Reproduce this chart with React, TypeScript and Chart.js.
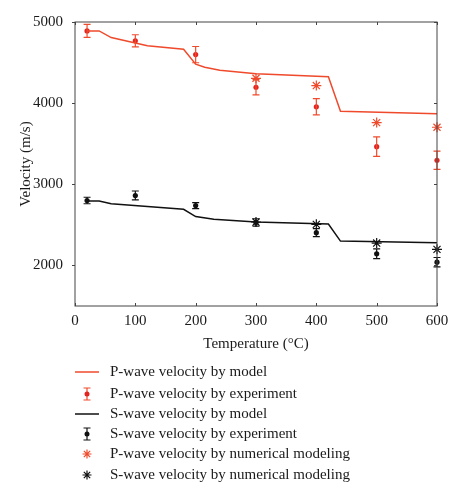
import React, { useEffect, useRef } from 'react';
import { Chart, registerables } from 'chart.js';

Chart.register(...registerables);

const xTicks = [0, 100, 200, 300, 400, 500, 600];
const yTicks = [2000, 3000, 4000, 5000];

const pModelT = [20, 40, 60, 120, 180, 200, 215, 240, 300, 420, 440, 600];
const pModelV = [4890, 4890, 4808, 4708, 4665, 4480, 4442, 4405, 4362, 4325, 3900, 3870];

const sModelT = [20, 40, 60, 180, 200, 230, 300, 420, 440, 600];
const sModelV = [2795, 2795, 2760, 2692, 2602, 2568, 2535, 2510, 2300, 2278];

const expT = [20, 100, 200, 300, 400, 500, 600];
const pExpV = [4890, 4768, 4598, 4196, 3955, 3464, 3296];
const pExpErr = [80, 75, 100, 95, 100, 120, 112];
const sExpV = [2800, 2862, 2738, 2530, 2404, 2144, 2040];
const sExpErr = [40, 55, 37, 45, 50, 60, 58];

const numT = [300, 400, 500, 600];
const pNumV = [4306, 4217, 3760, 3703];
const sNumV = [2535, 2506, 2276, 2198];

const legendLabels = [
  'P-wave velocity by model',
  'P-wave velocity by experiment',
  'S-wave velocity by model',
  'S-wave velocity by experiment',
  'P-wave velocity by numerical modeling',
  'S-wave velocity by numerical modeling',
];

const RED_LINE = '#ef4a2c';
const RED_PT = '#e3231f';
const BLACK = '#111111';
const FONT = "'Liberation Serif', 'Times New Roman', serif";

const pairs = (xs: number[], ys: number[]) => xs.map((x, i) => ({ x, y: ys[i] }));

const errorBarPlugin = {
  id: 'errorBars',
  afterDatasetsDraw(chart: any) {
    const { ctx } = chart;
    const x = chart.scales.x;
    const y = chart.scales.y;
    chart.data.datasets.forEach((ds: any) => {
      if (!ds.errors) return;
      ctx.save();
      ctx.strokeStyle = ds.errorColor;
      ctx.lineWidth = 1.2;
      ds.data.forEach((p: any, j: number) => {
        const px = x.getPixelForValue(p.x);
        const top = y.getPixelForValue(p.y + ds.errors[j]);
        const bot = y.getPixelForValue(p.y - ds.errors[j]);
        ctx.beginPath();
        ctx.moveTo(px, top);
        ctx.lineTo(px, bot);
        ctx.moveTo(px - 3.5, top);
        ctx.lineTo(px + 3.5, top);
        ctx.moveTo(px - 3.5, bot);
        ctx.lineTo(px + 3.5, bot);
        ctx.stroke();
      });
      ctx.restore();
    });
  },
};

const framePlugin = {
  id: 'frame',
  afterDraw(chart: any) {
    const { ctx, chartArea: a } = chart;
    const x = chart.scales.x;
    const y = chart.scales.y;
    ctx.save();
    ctx.strokeStyle = '#444';
    ctx.lineWidth = 1;
    ctx.strokeRect(a.left, a.top, a.right - a.left, a.bottom - a.top);
    ctx.beginPath();
    xTicks.forEach((t) => {
      const px = Math.round(x.getPixelForValue(t)) + 0.5;
      ctx.moveTo(px, a.bottom);
      ctx.lineTo(px, a.bottom - 3);
      ctx.moveTo(px, a.top);
      ctx.lineTo(px, a.top + 3);
    });
    yTicks.forEach((t) => {
      const py = Math.round(y.getPixelForValue(t)) + 0.5;
      ctx.moveTo(a.left, py);
      ctx.lineTo(a.left - 3, py);
      ctx.moveTo(a.right, py);
      ctx.lineTo(a.right - 3, py);
    });
    ctx.stroke();
    ctx.restore();
  },
};

const legendPlugin = {
  id: 'customLegend',
  afterDraw(chart: any) {
    const { ctx } = chart;
    const ys = [372, 394, 414, 434, 454, 475];
    const sx = 87;
    ctx.save();
    ctx.font = `15px ${FONT}`;
    ctx.textBaseline = 'middle';
    ctx.textAlign = 'left';
    chart.data.datasets.forEach((ds: any, i: number) => {
      const yy = ys[i];
      ctx.fillStyle = '#1a1a1a';
      ctx.fillText(legendLabels[i], 110, yy);
      const kind = ds.legendKind;
      if (kind === 'line') {
        ctx.strokeStyle = ds.borderColor;
        ctx.lineWidth = 1.5;
        ctx.beginPath();
        ctx.moveTo(75, yy);
        ctx.lineTo(99, yy);
        ctx.stroke();
      } else if (kind === 'err') {
        ctx.strokeStyle = ds.errorColor;
        ctx.lineWidth = 1.2;
        ctx.beginPath();
        ctx.moveTo(sx, yy - 6);
        ctx.lineTo(sx, yy + 6);
        ctx.moveTo(sx - 3.5, yy - 6);
        ctx.lineTo(sx + 3.5, yy - 6);
        ctx.moveTo(sx - 3.5, yy + 6);
        ctx.lineTo(sx + 3.5, yy + 6);
        ctx.stroke();
        ctx.fillStyle = ds.backgroundColor;
        ctx.beginPath();
        ctx.arc(sx, yy, 2.5, 0, Math.PI * 2);
        ctx.fill();
      } else if (kind === 'star') {
        ctx.strokeStyle = ds.borderColor;
        ctx.lineWidth = 1.2;
        const r = 4.5;
        const d = r * Math.SQRT1_2;
        ctx.beginPath();
        ctx.moveTo(sx - r, yy);
        ctx.lineTo(sx + r, yy);
        ctx.moveTo(sx, yy - r);
        ctx.lineTo(sx, yy + r);
        ctx.moveTo(sx - d, yy - d);
        ctx.lineTo(sx + d, yy + d);
        ctx.moveTo(sx - d, yy + d);
        ctx.lineTo(sx + d, yy - d);
        ctx.stroke();
      }
    });
    ctx.restore();
  },
};

export default function App() {
  const ref = useRef<HTMLCanvasElement>(null);

  useEffect(() => {
    document.body.style.margin = '0';
    const canvas = ref.current;
    if (!canvas) return;
    const chart = new Chart(canvas, {
      type: 'scatter',
      data: {
        datasets: [
          {
            label: legendLabels[0],
            data: pairs(pModelT, pModelV),
            showLine: true,
            borderColor: RED_LINE,
            borderWidth: 1.5,
            pointRadius: 0,
            tension: 0,
            clip: false,
            legendKind: 'line',
          } as any,
          {
            label: legendLabels[1],
            data: pairs(expT, pExpV),
            backgroundColor: RED_PT,
            borderColor: RED_PT,
            pointRadius: 2.6,
            borderWidth: 0,
            clip: false,
            errors: pExpErr,
            errorColor: RED_LINE,
            legendKind: 'err',
          } as any,
          {
            label: legendLabels[2],
            data: pairs(sModelT, sModelV),
            showLine: true,
            borderColor: BLACK,
            borderWidth: 1.5,
            pointRadius: 0,
            tension: 0,
            clip: false,
            legendKind: 'line',
          } as any,
          {
            label: legendLabels[3],
            data: pairs(expT, sExpV),
            backgroundColor: BLACK,
            borderColor: BLACK,
            pointRadius: 2.6,
            borderWidth: 0,
            clip: false,
            errors: sExpErr,
            errorColor: BLACK,
            legendKind: 'err',
          } as any,
          {
            label: legendLabels[4],
            data: pairs(numT, pNumV),
            pointStyle: 'star',
            pointRadius: 5,
            borderColor: RED_LINE,
            borderWidth: 1.2,
            clip: false,
            legendKind: 'star',
          } as any,
          {
            label: legendLabels[5],
            data: pairs(numT, sNumV),
            pointStyle: 'star',
            pointRadius: 5,
            borderColor: BLACK,
            borderWidth: 1.2,
            clip: false,
            legendKind: 'star',
          } as any,
        ],
      },
      options: {
        responsive: false,
        animation: false,
        devicePixelRatio: 1,
        layout: { padding: { top: 22, right: 27, bottom: 134, left: 0 } },
        plugins: {
          legend: { display: false },
          tooltip: { enabled: false },
        },
        scales: {
          x: {
            type: 'linear',
            min: 0,
            max: 600,
            afterBuildTicks: (s: any) => {
              s.ticks = xTicks.map((v) => ({ value: v }));
            },
            ticks: {
              padding: 6,
              color: '#1a1a1a',
              font: { family: FONT, size: 15 },
              callback: (v: any) => String(v),
            },
            grid: { display: false, drawTicks: false },
            border: { display: false },
            title: {
              display: true,
              text: 'Temperature (°C)',
              color: '#1a1a1a',
              font: { family: FONT, size: 15 },
              padding: { top: 0, bottom: 13 },
            },
            afterFit: (s: any) => {
              s.height = 60;
            },
          },
          y: {
            type: 'linear',
            min: 1500,
            max: 5000,
            afterBuildTicks: (s: any) => {
              s.ticks = yTicks.map((v) => ({ value: v }));
            },
            ticks: {
              padding: 12,
              color: '#1a1a1a',
              font: { family: FONT, size: 15 },
              callback: (v: any) => String(v),
            },
            grid: { display: false, drawTicks: false },
            border: { display: false },
            title: {
              display: true,
              text: 'Velocity (m/s)',
              color: '#1a1a1a',
              font: { family: FONT, size: 15 },
              padding: { top: 17, bottom: 0 },
            },
            afterFit: (s: any) => {
              s.width = 75;
            },
          },
        },
      } as any,
      plugins: [errorBarPlugin, framePlugin, legendPlugin],
    });
    return () => chart.destroy();
  }, []);

  return (
    <div style={{ width: 464, height: 500, background: '#fff' }}>
      <canvas ref={ref} width={464} height={500} />
    </div>
  );
}
